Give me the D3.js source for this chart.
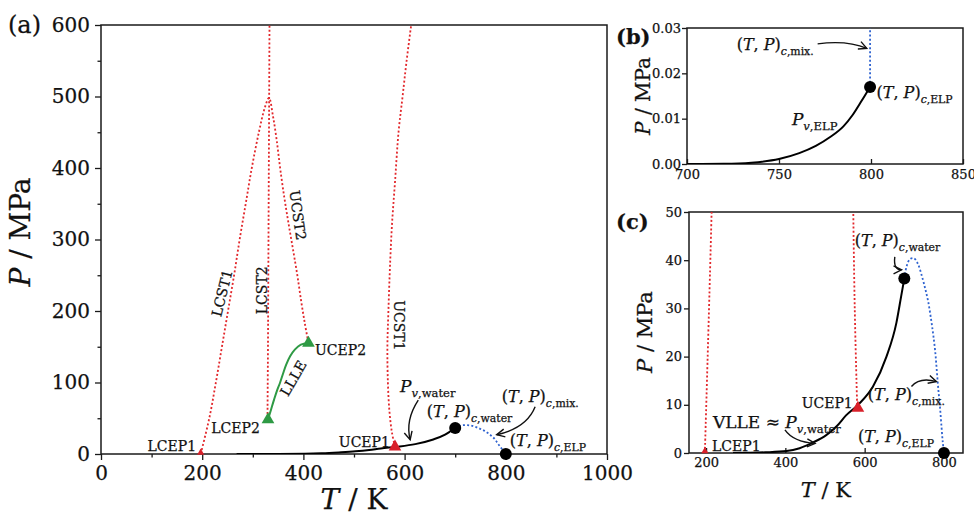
<!DOCTYPE html>
<html><head><meta charset="utf-8">
<script src="https://cdn.jsdelivr.net/npm/d3@7"></script>
<style>
body{margin:0;background:#fff}
text{font-family:"DejaVu Serif",serif;fill:#111;stroke:#111;stroke-width:0.25px}
</style>
</head><body>
<svg id="chart" width="974" height="516"></svg>
<script>
// ---------- DATA (T in K, P in MPa) ----------
const lcst1ucst2 = [[197,0],[214,50],[227,100],[239,150],[251,200],[263,250],[274,300],[286,350],[298,400],[312,450],[324,485],[332,498],[340,472],[347,440],[354,400],[362,360],[370,325],[379,288],[388,250],[396,212],[403,182],[410,155]];
const lcst2 = [[329,50],[330,150],[331,300],[332,450],[333,600]];
const ucst1 = [[581,10],[575,30],[570,60],[567,100],[566,150],[568,200],[571,260],[575,320],[581,380],[588,450],[596,500],[604,550],[613,600]];
const llle = [[330,48],[336,62],[342,76],[348,89],[354,100],[360,113],[366,125],[374,137],[383,146],[395,153],[410,155]];
const pvWater = [[268,0],[300,0.05],[350,0.15],[403,0.4],[436,1.0],[470,2.2],[503,3.7],[530,5.6],[553,7.8],[586,10.2],[621,13.8],[655,20],[680,27],[692,32.5],[700,36.2]];
const critMix = [[700,36.2],[706,38.8],[714,40.2],[724,40.4],[734,39.3],[745,36.5],[753,34],[760,31.5],[767,28],[773,24.5],[778,21],[782,17],[786,13],[790,9.5],[794,5.2],[797,2.2],[800,0]];
const pvELP = [[700,0],[720,0.00005],[735,0.0003],[750,0.0011],[761,0.0024],[770,0.0040],[778,0.0060],[785,0.0083],[790,0.0108],[795,0.0140],[799.5,0.0170]];
const critMixB = [[799.5,0.0170],[799.5,0.0300]];
const redTriA = [[197,2,22],[581,10,70]];
const greenTriA = [[330,48,70],[410,155,70]];
const circA = [[700,36.2],[800,0]];
const redTriC = [[197,0.4,22],[583,9.3,70]];
const circC = [[700,36.2],[800,0]];
const circB = [[799.5,0.0170]];
const ticksAx = [0,200,400,600,800,1000], minorAx = [100,300,500,700,900];
const ticksAy = [0,100,200,300,400,500,600], minorAy = [50,150,250,350,450,550];
const ticksBx = [700,750,800,850], ticksBy = [0,0.01,0.02,0.03];
const ticksCx = [200,400,600,800], ticksCy = [0,10,20,30,40,50];

// ---------- SETUP ----------
const svg = d3.select("#chart");
const RED="#e2272b", BLUE="#2f63d0", GREEN="#2e9a44", TRI_RED="#d8202a";
const defs = svg.append("defs");
defs.append("marker").attr("id","arr").attr("viewBox","-9 -6 12 12")
  .attr("markerWidth",12).attr("markerHeight",12).attr("markerUnits","userSpaceOnUse")
  .attr("refX",0).attr("refY",0).attr("orient","auto")
  .append("path").attr("d","M-8,-4 L0,0 L-8,4").attr("fill","none").attr("stroke","#111").attr("stroke-width",1.4);

const xA = d3.scaleLinear().domain([0,1000]).range([101,607]);
const yA = d3.scaleLinear().domain([0,600]).range([454,25]);
const xB = d3.scaleLinear().domain([700,850]).range([687,963]);
const yB = d3.scaleLinear().domain([0,0.03]).range([164,28]);
const xC = d3.scaleLinear().domain([157,848]).range([689,963]);
const yC = d3.scaleLinear().domain([0,50]).range([453,212]);

function clip(id,x,y){
  defs.append("clipPath").attr("id",id).append("rect")
    .attr("x",x.range()[0]).attr("y",y.range()[1])
    .attr("width",x.range()[1]-x.range()[0]).attr("height",y.range()[0]-y.range()[1]);
}
clip("clipA",xA,yA); clip("clipB",xB,yB); clip("clipC",xC,yC);

function frame(x,y){
  svg.append("rect").attr("x",x.range()[0]).attr("y",y.range()[1])
    .attr("width",x.range()[1]-x.range()[0]).attr("height",y.range()[0]-y.range()[1])
    .attr("fill","none").attr("stroke","#1a1a1a").attr("stroke-width",1.5);
}
function styleAxis(g,fs){
  g.attr("font-family","DejaVu Serif").attr("font-size",fs);
  g.select(".domain").remove();
  g.selectAll(".tick line").attr("stroke","#1a1a1a").attr("stroke-width",1.3);
  g.selectAll(".tick text").attr("fill","#111");
}
function drawLine(g,data,x,y,color,dotted,curve,w){
  g.append("path").datum(data)
    .attr("d",d3.line().x(d=>x(d[0])).y(d=>y(d[1])).curve(curve||d3.curveCatmullRom.alpha(0.5)))
    .attr("fill","none").attr("stroke",color).attr("stroke-width",w||(dotted?1.8:2))
    .attr("stroke-dasharray",dotted?"2,2.2":null);
}
function tri(g,data,x,y,color){
  g.selectAll(null).data(data).enter().append("path")
    .attr("transform",d=>`translate(${x(d[0])},${y(d[1])})`)
    .attr("d",d=>d3.symbol(d3.symbolTriangle,d[2])()).attr("fill",color);
}
function circ(g,data,x,y){
  g.selectAll(null).data(data).enter().append("circle")
    .attr("cx",d=>x(d[0])).attr("cy",d=>y(d[1])).attr("r",6).attr("fill","#000");
}
// segs: [text, style] with style 'n','i','sn','si'
function math(g,px,py,segs,fs,anchor){
  const t = g.append("text").attr("x",px).attr("y",py).attr("font-size",fs).attr("text-anchor",anchor||"start");
  let inSub=false;
  segs.forEach(([s,st])=>{
    const sub = st[0]==="s";
    const sp = t.append("tspan").text(s)
      .attr("font-style",st.endsWith("i")?"italic":"normal")
      .attr("font-size",sub?fs*0.68:fs);
    if(sub && !inSub) sp.attr("dy",fs*0.3);
    if(!sub && inSub) sp.attr("dy",-fs*0.3);
    inSub=sub;
  });
  return t;
}
const TPc = sub => [["(","n"],["T","i"],[", ","n"],["P","i"],[")","n"],["c","si"],[sub,"sn"]];
function label(g,px,py,s,fs,anchor,rot,extra){
  const t = g.append("text").attr("font-size",fs).attr("text-anchor",anchor||"start").text(s);
  if(rot!==undefined){
    t.attr("transform",`translate(${px},${py}) rotate(${rot})`).attr("dominant-baseline","central");
  } else t.attr("x",px).attr("y",py);
  if(extra) t.attr("font-weight",extra);
  return t;
}
function arrow(g,a,x,y){
  g.append("path").attr("d",`M${x(a[0])},${y(a[1])} Q${x(a[2])},${y(a[3])} ${x(a[4])},${y(a[5])}`)
    .attr("fill","none").attr("stroke","#111").attr("stroke-width",1.4).attr("marker-end","url(#arr)");
}
function axisTitle(cx,cy,fs,segs,rot){
  const g = svg.append("g").attr("transform",`translate(${cx},${cy}) rotate(${rot||0})`);
  math(g,0,0,segs,fs,"middle");
}

// ---------- PANEL A ----------
frame(xA,yA);
let ax = svg.append("g").attr("transform",`translate(0,${yA(0)})`)
  .call(d3.axisBottom(xA).tickValues(ticksAx).tickSize(6).tickPadding(6).tickFormat(d3.format("d")));
styleAxis(ax,20);
ax = svg.append("g").attr("transform",`translate(0,${yA(0)})`)
  .call(d3.axisBottom(xA).tickValues(minorAx).tickSize(3.5).tickFormat(""));
styleAxis(ax,20);
ax = svg.append("g").attr("transform",`translate(${xA(0)},0)`)
  .call(d3.axisLeft(yA).tickValues(ticksAy).tickSize(6).tickPadding(5).tickFormat(d3.format("d")));
styleAxis(ax,20);
ax = svg.append("g").attr("transform",`translate(${xA(0)},0)`)
  .call(d3.axisLeft(yA).tickValues(minorAy).tickSize(3.5).tickFormat(""));
styleAxis(ax,20);

const gA = svg.append("g").attr("clip-path","url(#clipA)");
drawLine(gA,lcst1ucst2,xA,yA,RED,true);
drawLine(gA,lcst2,xA,yA,RED,true,d3.curveLinear);
drawLine(gA,ucst1,xA,yA,RED,true);
drawLine(gA,critMix,xA,yA,BLUE,true);
drawLine(gA,llle,xA,yA,GREEN,false,null,2);
drawLine(gA,pvWater,xA,yA,"#000",false,d3.curveMonotoneX,2);
const gAm = svg.append("g");
tri(gAm,redTriA,xA,yA,TRI_RED);
tri(gAm,greenTriA,xA,yA,GREEN);
circ(gAm,circA,xA,yA);

label(svg,8,33,"(a)",24);
axisTitle(30,232,28,[["P","i"],[" / MPa","n"]],-90);
axisTitle(xA(500),509,28,[["T","i"],[" / K","n"]]);

label(svg,xA(188),yA(4),"LCEP1",14,"end");
label(svg,xA(314),yA(29),"LCEP2",14,"end");
label(svg,xA(423),yA(138),"UCEP2",14,"start");
label(svg,xA(571),yA(10),"UCEP1",14,"end");
label(svg,xA(239),yA(225),"LCST1",14,"middle",-76);
label(svg,xA(318),yA(229),"LCST2",14,"middle",-90);
label(svg,xA(389),yA(334),"UCST2",14,"middle",82);
label(svg,xA(588),yA(180),"UCST1",14,"middle",90);
label(svg,xA(380),yA(106),"LLLE",14,"middle",-60);
math(svg,xA(591),yA(87),[["P","i"],["v","si"],[",water","sn"]],17);
math(svg,xA(644),yA(52),TPc(",water"),16);
math(svg,xA(792),yA(73),TPc(",mix."),16);
math(svg,xA(808),yA(11),TPc(",ELP"),16);
arrow(svg,[627,75.5,601,47.5,611,20],xA,yA);
arrow(svg,[858,66,841,36,782,27],xA,yA);

// ---------- PANEL B ----------
frame(xB,yB);
ax = svg.append("g").attr("transform",`translate(0,${yB(0)})`)
  .call(d3.axisBottom(xB).tickValues(ticksBx).tickSizeInner(-5).tickSizeOuter(0).tickPadding(6).tickFormat(d3.format("d")));
styleAxis(ax,13);
ax = svg.append("g").attr("transform",`translate(${xB(700)},0)`)
  .call(d3.axisLeft(yB).tickValues(ticksBy).tickSize(5).tickPadding(1).tickFormat(d3.format(".2f")));
styleAxis(ax,13);
const gB = svg.append("g").attr("clip-path","url(#clipB)");
drawLine(gB,critMixB,xB,yB,BLUE,true,d3.curveLinear);
drawLine(gB,pvELP,xB,yB,"#000",false,d3.curveMonotoneX,2);
circ(svg,circB,xB,yB);
label(svg,616,44,"(b)",21,"start",undefined,"bold");
axisTitle(650,96,20,[["P","i"],[" / MPa","n"]],-90);
math(svg,xB(727),yB(0.0252),TPc(",mix."),16);
math(svg,xB(803),yB(0.01455),TPc(",ELP"),16);
math(svg,xB(757),yB(0.0086),[["P","i"],["v","si"],[",ELP","sn"]],17);
arrow(svg,[771,0.0265,787,0.02735,797.7,0.0255],xB,yB);

// ---------- PANEL C ----------
frame(xC,yC);
ax = svg.append("g").attr("transform",`translate(0,${yC(0)})`)
  .call(d3.axisBottom(xC).tickValues(ticksCx).tickSizeInner(-5).tickSizeOuter(0).tickPadding(5).tickFormat(d3.format("d")));
styleAxis(ax,13);
ax = svg.append("g").attr("transform",`translate(${xC.range()[0]},0)`)
  .call(d3.axisLeft(yC).tickValues(ticksCy).tickSize(5).tickPadding(2).tickFormat(d3.format("d")));
styleAxis(ax,13);
const gC = svg.append("g").attr("clip-path","url(#clipC)");
drawLine(gC,lcst1ucst2,xC,yC,RED,true);
drawLine(gC,ucst1,xC,yC,RED,true);
drawLine(gC,critMix,xC,yC,BLUE,true);
drawLine(gC,pvWater,xC,yC,"#000",false,d3.curveMonotoneX,2);
const gCm = svg.append("g");
tri(gCm,redTriC,xC,yC,TRI_RED);
circ(gCm,circC,xC,yC);
label(svg,616,229,"(c)",21,"start",undefined,"bold");
axisTitle(652,332,21,[["P","i"],[" / MPa","n"]],-90);
axisTitle(xC(502),497,21,[["T","i"],[" / K","n"]]);
math(svg,xC(575),yC(43),TPc(",water"),16);
math(svg,xC(608),yC(11),TPc(",mix."),16);
math(svg,xC(583),yC(2.3),TPc(",ELP"),16);
label(svg,xC(570),yC(9.3),"UCEP1",14,"end");
label(svg,xC(215),yC(0.4),"LCEP1",14,"start");
math(svg,xC(217.5),yC(5.2),[["VLLE ≈ ","n"],["P","i"],["v","si"],[",water","sn"]],17);
arrow(svg,[676,40.7,672,38,693,38],xC,yC);
arrow(svg,[718,13.8,739,15.8,781,14.8],xC,yC);
arrow(svg,[399,4.8,420,2.3,475,2.0],xC,yC);
</script>
</body></html>
